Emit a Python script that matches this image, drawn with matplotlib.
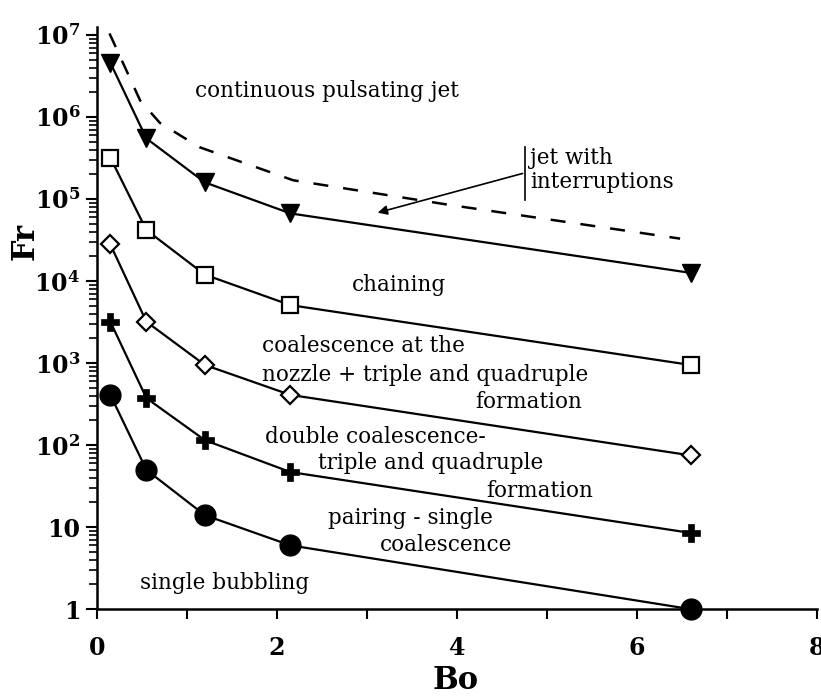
import numpy as np
import matplotlib
matplotlib.use('Agg')
import matplotlib.pyplot as plt
from matplotlib.ticker import FixedLocator, FixedFormatter, LogLocator, NullFormatter

plt.rcParams['font.family'] = 'DejaVu Serif'
plt.rcParams['mathtext.fontset'] = 'dejavuserif'

#--data--#
bo = [0.15, 0.55, 1.2, 2.15, 6.6]
fr_jet = [4.6e6, 5.5e5, 1.6e5, 6.7e4, 1.26e4]          # filled triangles
fr_chain = [3.2e5, 4.2e4, 1.2e4, 5.1e3, 950]           # open squares
fr_nozzle = [2.8e4, 3.2e3, 950, 410, 75]               # open diamonds
fr_double = [3.2e3, 375, 115, 47, 8.5]                 # plus
fr_pair = [410, 50, 14, 6.0, 1.0]                      # filled circles

bo_dash = [0.14, 0.48, 0.70, 1.14, 2.18, 3.92, 6.48]
fr_dash = [1.05e7, 1.6e6, 8.5e5, 4.3e5, 1.7e5, 8.5e4, 3.3e4]

y_ticks = [1, 10, 1e2, 1e3, 1e4, 1e5, 1e6, 1e7]
y_labels = ['1', '10', r'$\mathbf{10^{2}}$', r'$\mathbf{10^{3}}$', r'$\mathbf{10^{4}}$',
            r'$\mathbf{10^{5}}$', r'$\mathbf{10^{6}}$', r'$\mathbf{10^{7}}$']
x_ticks = [0, 2, 4, 6, 8]

fig = plt.figure(figsize=(8.21, 6.97), dpi=100)
ax = fig.add_axes([0.118, 0.126, 0.877, 0.835])

lw = 1.6
ax.plot(bo_dash, fr_dash, color='black', lw=1.8, ls=(0, (6, 6)))
ax.plot(bo, fr_jet, color='black', lw=lw, marker='v', ms=13, mfc='black', clip_on=False)
ax.plot(bo, fr_chain, color='black', lw=lw, marker='s', ms=12, mfc='white', mew=1.6, clip_on=False)
ax.plot(bo, fr_nozzle, color='black', lw=lw, marker='D', ms=9, mfc='white', mew=1.6, clip_on=False)
ax.plot(bo, fr_double, color='black', lw=lw, marker='P', ms=13, mfc='black', mew=0.5, clip_on=False)
ax.plot(bo, fr_pair, color='black', lw=lw, marker='o', ms=15, mfc='black', clip_on=False, zorder=5)

ax.set_yscale('log')
ax.set_xlim(0, 8)
ax.set_ylim(1, 1.25e7)

ax.spines['top'].set_visible(False)
ax.spines['right'].set_visible(False)
ax.spines['left'].set_linewidth(1.8)
ax.spines['bottom'].set_linewidth(1.8)

ax.yaxis.set_major_locator(FixedLocator(y_ticks))
ax.yaxis.set_major_formatter(FixedFormatter(y_labels))
ax.yaxis.set_minor_locator(LogLocator(base=10, subs=np.arange(2, 10), numticks=20))
ax.yaxis.set_minor_formatter(NullFormatter())
ax.xaxis.set_major_locator(FixedLocator(x_ticks))
ax.xaxis.set_minor_locator(FixedLocator([1, 3, 5, 7]))

ax.tick_params(axis='y', which='major', direction='out', length=8, width=1.5, labelsize=17, pad=4)
ax.tick_params(axis='y', which='minor', direction='out', length=6, width=1.2)
ax.tick_params(axis='x', which='both', direction='out', length=7, width=1.5, labelsize=17, pad=12)
for lab in ax.get_xticklabels() + ax.get_yticklabels():
    lab.set_fontweight('bold')

fig.text(0.555, 0.024, 'Bo', fontsize=22, fontweight='bold', ha='center', va='center')
fig.text(0.030, 0.653, 'Fr', fontsize=22, fontweight='bold', ha='center', va='center', rotation=90)

#--region labels--#
fs = 15.5
ax.text(1.09, 2.1e6, 'continuous pulsating jet', fontsize=fs, va='center')
ax.text(4.81, 3.2e5, 'jet with', fontsize=fs, va='center')
ax.text(4.81, 1.6e5, 'interruptions', fontsize=fs, va='center')
ax.plot([4.76, 4.76], [4.3e5, 9.7e4], color='black', lw=1.2)
ax.annotate('', xy=(3.09, 6.7e4), xytext=(4.76, 2.1e5),
            arrowprops=dict(arrowstyle='-|>', color='black', lw=1.2, mutation_scale=14))
ax.text(3.36, 8.9e3, 'chaining', fontsize=fs, va='center', ha='center')
ax.text(1.83, 1.6e3, 'coalescence at the', fontsize=fs, va='center')
ax.text(1.83, 715, 'nozzle + triple and quadruple', fontsize=fs, va='center')
ax.text(5.39, 333, 'formation', fontsize=fs, va='center', ha='right')
ax.text(1.87, 125, 'double coalescence-', fontsize=fs, va='center')
ax.text(2.46, 60, 'triple and quadruple', fontsize=fs, va='center')
ax.text(5.51, 28, 'formation', fontsize=fs, va='center', ha='right')
ax.text(2.57, 12.9, 'pairing - single', fontsize=fs, va='center')
ax.text(3.14, 6.0, 'coalescence', fontsize=fs, va='center')
ax.text(0.48, 2.1, 'single bubbling', fontsize=fs, va='center')

fig.savefig('out.png', dpi=100)
